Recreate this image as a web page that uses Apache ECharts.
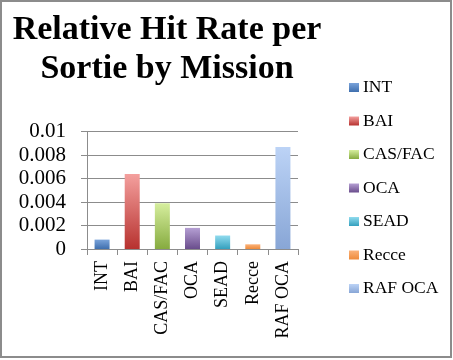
<!DOCTYPE html>
<html><head><meta charset="utf-8">
<script src="https://cdn.jsdelivr.net/npm/echarts@6/dist/echarts.min.js"></script>
<style>html,body{margin:0;padding:0;background:#fff}#c{width:453px;height:360px}</style>
</head><body><div id="c"></div>
<script>
const categories = ['INT','BAI','CAS/FAC','OCA','SEAD','Recce','RAF OCA'];
const values = [0.0008, 0.0064, 0.0039, 0.0018, 0.00115, 0.0004, 0.0087];
const yTicks = [0, 0.002, 0.004, 0.006, 0.008, 0.01];
const titleText = 'Relative Hit Rate per\nSortie by Mission';
const colorTop = ['#7aa3da','#f4a09e','#d6ee9e','#b59fd3','#90dbee','#fbb27a','#bcd3f6'];
const colorBottom = ['#3f6fae','#b7322f','#86ab3f','#6a4d8c','#34a0be','#ee8a3a','#88a6d6'];

const serif = '"Liberation Serif", "Times New Roman", serif';
const series = categories.map((name, i) => ({
  name: name,
  type: 'bar',
  barWidth: 15,
  barGap: '-100%',
  data: categories.map((c, j) => j === i ? values[i] : null),
  itemStyle: {
    color: new echarts.graphic.LinearGradient(0, 0, 0, 1, [
      {offset: 0, color: colorTop[i]}, {offset: 1, color: colorBottom[i]}
    ])
  }
}));

const chart = echarts.init(document.getElementById('c'), null, {renderer: 'canvas'});
chart.setOption({
  animation: false,
  backgroundColor: '#fff',
  graphic: [
    {type: 'rect', shape: {x: 1, y: 1, width: 450, height: 356},
     style: {fill: 'none', stroke: '#8c8c8c', lineWidth: 2}, z: -1},
    {type: 'text', x: 167, y: 10,
     style: {text: titleText, font: 'bold 34px ' + serif, textAlign: 'center', lineHeight: 39.5, fill: '#000'}}
  ],
  grid: {left: 87, right: 155, top: 131.7, bottom: 111, containLabel: false},
  legend: {
    orient: 'vertical', left: 344, top: 73.5,
    itemWidth: 10, itemHeight: 9, itemGap: 15.5,
    icon: 'rect',
    textStyle: {fontFamily: serif, fontSize: 17.5, color: '#000', lineHeight: 17, padding: [0,0,0,-1]},
    data: categories
  },
  xAxis: {
    type: 'category', data: categories,
    axisLine: {lineStyle: {color: '#8c8c8c', width: 1}},
    axisTick: {show: true, length: 6, lineStyle: {color: '#8c8c8c'}},
    axisLabel: {rotate: 90, margin: 12, fontFamily: serif, fontSize: 18, color: '#000'}
  },
  yAxis: {
    type: 'value', min: 0, max: 0.01, interval: 0.002,
    axisLine: {show: true, lineStyle: {color: '#8c8c8c'}},
    axisTick: {show: true, length: 6, lineStyle: {color: '#8c8c8c'}},
    splitLine: {lineStyle: {color: '#8c8c8c'}},
    axisLabel: {margin: 21, fontFamily: serif, fontSize: 21, color: '#000',
      formatter: v => { const t = yTicks.find(x => Math.abs(x - v) < 1e-9); return String(t === undefined ? v : t); }}
  },
  series: series
});
</script></body></html>
